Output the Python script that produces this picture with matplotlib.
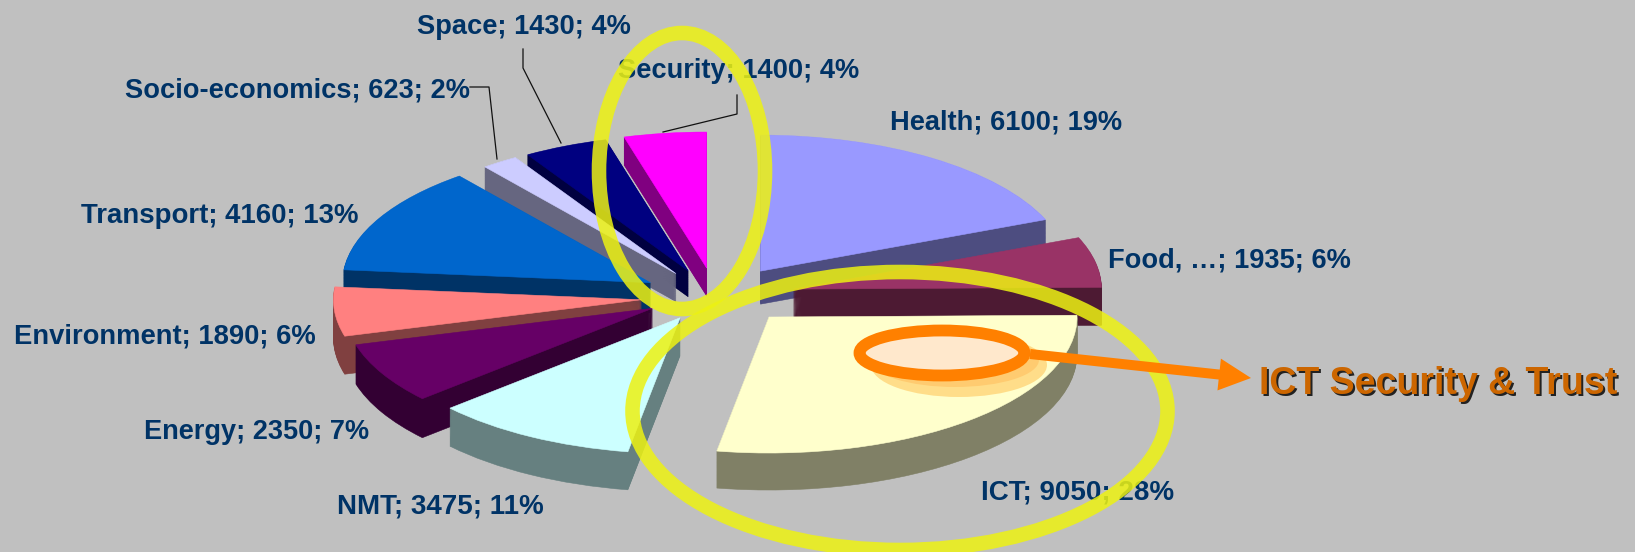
import matplotlib
matplotlib.use("Agg")
import matplotlib.pyplot as plt
from matplotlib.patches import Ellipse, FancyArrow

# ---- data ----
names = ["Health", "Food, …", "ICT", "NMT", "Energy", "Environment",
         "Transport", "Socio-economics", "Space", "Security"]
values = [6100, 1935, 9050, 3475, 2350, 1890, 4160, 623, 1430, 1400]
colors = ["#9999FF", "#993366", "#FFFFCC", "#CCFFFF", "#660066", "#FF8080",
          "#0066CC", "#CCCCFF", "#000080", "#FF00FF"]

# ---- style / layout ----
W, H = 1635, 552
explode = [0.30, 0.29, 0.30, 0.20, 0.22, 0.23, 0.22, 0.21, 0.21, 0.20]
paint_rank = [7, 8, 9, 6, 5, 4, 3, 2, 1, 0]
depth_px = [33, 38, 37, 38, 39, 38, 30, 28, 26, 28]
nudge_px = [(0, 8), (-3, 0), (0, -11), (1, -3), (3, -3), (3, 0), (1, 0), (4, 0), (5, 0), (6, -2)]
label_size = [19.65, 19.65, 19.95, 19.95, 19.5, 19.7, 19.9, 19.65, 19.65, 19.65]
CX, CY, RX, RY = 709, 297, 308, 136
LAYERS = 40
NAVY = "#003366"
ORANGE = "#FF8000"
FONT = "Liberation Sans"
label_pos = [(890, 123), (1108, 261), (981, 492), (337, 506), (144, 432),
             (14, 336), (81, 216), (125, 90), (417, 27), (618, 71)]
leaders = [[(470, 87), (489, 87), (497, 159)],
           [(523, 49), (523, 68), (561, 143)],
           [(737, 95), (737, 114), (663, 132)]]

def darker(c, f=0.5):
    r, g, b = matplotlib.colors.to_rgb(c)
    return (r * f, g * f, b * f)

fig = plt.figure(figsize=(W / 100, H / 100), dpi=100, facecolor="#C0C0C0")
ax = fig.add_axes([0, 0, 1, 1])
side_colors = [darker(c) for c in colors]

for layer in range(LAYERS + 1):
    top = layer == LAYERS
    cols = colors if top else side_colors
    wedges, _ = ax.pie(values, explode=explode, colors=cols, startangle=90,
                       counterclock=False, radius=1, frame=False,
                       wedgeprops=dict(linewidth=0.4))
    for w, rank, c, dp, (nx, ny) in zip(wedges, paint_rank, cols, depth_px, nudge_px):
        d_px = (LAYERS - layer) * dp / LAYERS
        cx, cy = w.center
        w.set_center((cx + nx / RX, cy - (ny + d_px) / RY))
        w.set_edgecolor(c)
        w.set_zorder(10 + rank * 100 + layer)

ax.set_aspect("auto")
ax.set_xlim(-CX / RX, (W - CX) / RX)
ax.set_ylim(-(H - CY) / RY, CY / RY)
ax.patch.set_visible(False)

# overlay in pixel space for labels and annotations
ov = fig.add_axes([0, 0, 1, 1], zorder=5)
ov.set_xlim(0, W)
ov.set_ylim(H, 0)
ov.axis("off")

total = sum(values)
for name, val, (x, y), fs in zip(names, values, label_pos, label_size):
    ov.text(x, y, f"{name}; {val}; {round(100 * val / total)}%", color=NAVY,
            fontsize=fs, fontweight="bold", family=FONT, ha="left", va="center", zorder=3)

for pts in leaders:
    ov.plot([p[0] for p in pts], [p[1] for p in pts], color="#111111", lw=0.9, zorder=2)

# highlight rings
yellow = (0.93, 0.95, 0.07, 0.85)
for (ex, ey, ew, eh) in [(682, 171, 166, 276), (900, 411, 535, 278)]:
    ov.add_patch(Ellipse((ex, ey), ew, eh, facecolor="none", edgecolor=yellow, lw=10.5, zorder=4))

ov.add_patch(Ellipse((959, 365), 176, 64, facecolor="#FFCC66", edgecolor="none", alpha=0.65, zorder=5))
ov.add_patch(Ellipse((955, 360), 168, 54, facecolor="#FFC060", edgecolor="none", alpha=0.6, zorder=5))
ov.add_patch(Ellipse((942, 353), 165, 45, facecolor="#FFE8CC", edgecolor=ORANGE, lw=8.5, zorder=6))
ov.add_patch(FancyArrow(1030, 354, 221, 24, width=10, head_width=32, head_length=32,
                        length_includes_head=True, facecolor=ORANGE, edgecolor="none", zorder=6))

ov.text(1261, 386, "ICT Security & Trust", color="#222222", fontsize=27, fontweight="bold",
        family=FONT, ha="left", va="center", zorder=7)
ov.text(1259, 384, "ICT Security & Trust", color="#CC6600", fontsize=27, fontweight="bold",
        family=FONT, ha="left", va="center", zorder=8)

fig.savefig("out.png", dpi=100, facecolor=fig.get_facecolor())
